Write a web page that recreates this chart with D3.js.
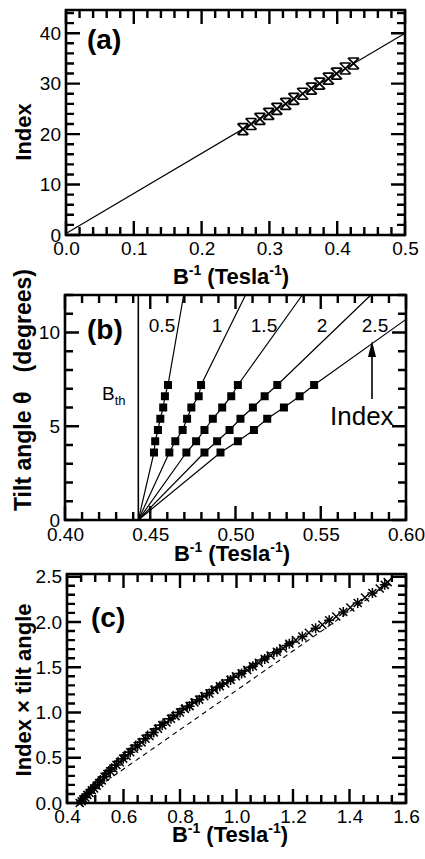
<!DOCTYPE html>
<html>
<head>
<meta charset="utf-8">
<script src="https://cdn.jsdelivr.net/npm/d3@7"></script>
<style>
  body { margin: 0; background: #fff; }
  svg { display: block; }
  text { font-family: "Liberation Sans", Arial, sans-serif; fill: #000; }
</style>
</head>
<body>
<div id="chart"></div>
<script>
// ---- panel (a): index vs 1/B ----
var aIndex = [21, 22, 23, 24, 25, 26, 27, 28, 29, 30, 31, 32, 33, 34];
var aInvB  = [0.261, 0.273, 0.286, 0.299, 0.311, 0.324, 0.336, 0.349, 0.362, 0.374, 0.387, 0.399, 0.412, 0.424];
var aFitX  = [0.0, 0.5];
var aFitY  = [0.3, 40.0];

// ---- panel (b): tilt angle vs 1/B for each index ----
var bIndexLabels = ["0.5", "1", "1.5", "2", "2.5"];
var bTilt = [3.6, 4.2, 4.8, 5.4, 6.0, 6.6, 7.2];
var bInvB = [
  [0.4522, 0.4529, 0.4545, 0.4559, 0.4576, 0.4586, 0.4604],
  [0.4612, 0.4647, 0.4690, 0.4716, 0.4741, 0.4784, 0.4798],
  [0.4712, 0.4769, 0.4818, 0.4867, 0.4922, 0.4975, 0.5014],
  [0.4818, 0.4892, 0.4965, 0.5029, 0.5102, 0.5171, 0.5245],
  [0.4912, 0.5014, 0.5108, 0.5186, 0.5284, 0.5376, 0.5461]
];
var bOrigin = [0.443, 0];
var bLineEnd = [[0.4696, 12], [0.5059, 12], [0.5392, 12], [0.5794, 12], [0.60, 10.7]];
var bTh = 0.443;

// ---- panel (c): index x tilt angle vs 1/B (two overlapping sets) ----
var cInvB = [0.445, 0.452, 0.458, 0.465, 0.472, 0.480, 0.488, 0.496, 0.505, 0.514,
             0.523, 0.533, 0.543, 0.553, 0.564, 0.575, 0.587, 0.599, 0.611, 0.624,
             0.637, 0.650, 0.664, 0.678, 0.692, 0.707, 0.722, 0.737, 0.752, 0.768,
             0.784, 0.800, 0.817, 0.834, 0.851, 0.868, 0.886, 0.904, 0.922, 0.941,
             0.960, 0.979, 0.998, 1.018, 1.038, 1.058, 1.079, 1.100, 1.121, 1.143,
             1.165, 1.187, 1.210, 1.233, 1.256, 1.280, 1.304, 1.328, 1.353, 1.378,
             1.403, 1.429, 1.455, 1.481, 1.507, 1.525, 1.535];
var cProd = [0.00, 0.02, 0.04, 0.06, 0.09, 0.11, 0.14, 0.16, 0.19, 0.22,
             0.25, 0.29, 0.32, 0.35, 0.38, 0.42, 0.45, 0.49, 0.52, 0.56,
             0.60, 0.63, 0.67, 0.71, 0.74, 0.78, 0.82, 0.86, 0.89, 0.93,
             0.96, 1.00, 1.04, 1.07, 1.11, 1.14, 1.18, 1.21, 1.25, 1.29,
             1.32, 1.36, 1.40, 1.43, 1.47, 1.51, 1.55, 1.59, 1.63, 1.67,
             1.71, 1.76, 1.80, 1.84, 1.88, 1.93, 1.97, 2.02, 2.06, 2.11,
             2.16, 2.21, 2.27, 2.32, 2.37, 2.41, 2.44];
var cInvB2 = [0.448, 0.455, 0.462, 0.469, 0.476, 0.484, 0.492, 0.500, 0.509, 0.518,
              0.528, 0.538, 0.548, 0.558, 0.569, 0.581, 0.593, 0.605, 0.617, 0.630,
              0.643, 0.657, 0.671, 0.685, 0.700, 0.714, 0.729, 0.744, 0.760, 0.776,
              0.792, 0.808, 0.825, 0.842, 0.859, 0.877, 0.895, 0.913, 0.931, 0.950,
              0.969, 0.988, 1.008, 1.028, 1.048, 1.068, 1.089, 1.110, 1.132, 1.154,
              1.176, 1.198];
var cProd2 = [0.03, 0.05, 0.07, 0.10, 0.12, 0.15, 0.17, 0.20, 0.23, 0.26,
              0.29, 0.33, 0.36, 0.39, 0.42, 0.46, 0.49, 0.53, 0.56, 0.60,
              0.64, 0.67, 0.71, 0.75, 0.78, 0.82, 0.86, 0.89, 0.93, 0.97,
              1.00, 1.04, 1.07, 1.11, 1.14, 1.18, 1.21, 1.25, 1.28, 1.32,
              1.36, 1.39, 1.43, 1.46, 1.50, 1.54, 1.58, 1.62, 1.66, 1.70,
              1.74, 1.78];
var cDashX = [0.46, 1.54];
var cDashY = [0.07, 2.42];

var svg = d3.select("#chart").append("svg")
    .attr("width", 425)
    .attr("height", 859);

function steps(a, b, s) {
  var out = [];
  var n = Math.round((b - a) / s);
  for (var i = 0; i <= n; i++) out.push(+(a + i * s).toFixed(4));
  return out;
}

// Build one framed panel with inward ticks on all four sides
function makePanel(p) {
  var w = p.right - p.left, h = p.bottom - p.top;
  var g = svg.append("g").attr("transform", "translate(" + p.left + "," + p.top + ")");
  var x = d3.scaleLinear().domain(p.xDomain).range([0, w]);
  var y = d3.scaleLinear().domain(p.yDomain).range([h, 0]);

  g.append("path")
    .attr("d", "M0,0H" + w + "V" + h + "H0Z")
    .attr("fill", "none").attr("stroke", "#000").attr("stroke-width", 2.6);

  // tick marks, one path, inward on all sides
  var d = "";
  function addTicks(xs, ys, len) {
    xs.forEach(function(v) {
      d += "M" + x(v).toFixed(2) + "," + h + "V" + (h - len);
      d += "M" + x(v).toFixed(2) + ",0V" + len;
    });
    ys.forEach(function(v) {
      d += "M0," + y(v).toFixed(2) + "H" + len;
      d += "M" + w + "," + y(v).toFixed(2) + "H" + (w - len);
    });
  }
  addTicks(p.xMinor, p.yMinor, 8);
  addTicks(p.xMajor, p.yMajor, 14);
  g.append("path").attr("d", d)
    .attr("fill", "none").attr("stroke", "#000").attr("stroke-width", 2.4);

  // tick labels from d3 axes
  var xa = g.append("g").attr("transform", "translate(0," + h + ")")
    .call(d3.axisBottom(x).tickValues(p.xMajor).tickSize(0).tickPadding(p.xPad).tickFormat(p.xFmt));
  var ya = g.append("g")
    .call(d3.axisLeft(y).tickValues(p.yMajor).tickSize(0).tickPadding(5).tickFormat(p.yFmt));
  [xa, ya].forEach(function(a) {
    a.select(".domain").remove();
    a.selectAll("text").style("font-size", "19px").attr("fill", "#000");
  });

  // x axis title with superscripts
  var t = svg.append("text")
    .attr("x", p.titleX).attr("y", p.xTitleY)
    .attr("text-anchor", "middle")
    .style("font-size", "22px").style("font-weight", "bold");
  t.append("tspan").text("B");
  t.append("tspan").attr("dy", -9).style("font-size", "14px").text("-1");
  t.append("tspan").attr("dy", 9).text(" (Tesla");
  t.append("tspan").attr("dy", -9).style("font-size", "14px").text("-1");
  t.append("tspan").attr("dy", 9).text(")");

  svg.append("text")
    .attr("transform", "translate(31," + p.yTitleY + ") rotate(-90)")
    .attr("text-anchor", "middle")
    .style("font-size", p.yTitleSize + "px").style("font-weight", "bold")
    .style("white-space", "pre")
    .text(p.yTitle);

  svg.append("text")
    .attr("x", p.tagX).attr("y", p.tagY)
    .style("font-size", "28px").style("font-weight", "bold")
    .text(p.tag);

  return {g: g, x: x, y: y};
}

// ---------- panel (a) ----------
var pa = makePanel({
  left: 66, right: 405, top: 10, bottom: 235,
  xDomain: [0, 0.5], yDomain: [0, 44.6],
  xMajor: steps(0, 0.5, 0.1), xMinor: steps(0, 0.5, 0.02),
  yMajor: steps(0, 40, 10), yMinor: steps(0, 44, 2),
  xFmt: d3.format(".1f"), yFmt: d3.format("d"), xPad: 7,
  titleX: 231, xTitleY: 284, yTitle: "Index", yTitleY: 132, yTitleSize: 22,
  tag: "(a)", tagX: 87, tagY: 49
});

pa.g.append("line")
  .attr("x1", pa.x(aFitX[0])).attr("y1", pa.y(aFitY[0]))
  .attr("x2", pa.x(aFitX[1])).attr("y2", pa.y(aFitY[1]))
  .attr("stroke", "#000").attr("stroke-width", 1.2);

pa.g.selectAll(".hg")
  .data(aIndex)
  .enter().append("path")
    .attr("class", "hg")
    .attr("transform", function(d, i) { return "translate(" + pa.x(aInvB[i]) + "," + pa.y(d) + ")"; })
    .attr("d", "M-5.5,-5.5L5.5,5.5M5.5,-5.5L-5.5,5.5M-5,-5.5L5,-5.5M-5,5.5L5,5.5")
    .attr("fill", "none").attr("stroke", "#000").attr("stroke-width", 1.7);

// ---------- panel (b) ----------
var pb = makePanel({
  left: 65, right: 406, top: 295, bottom: 520,
  xDomain: [0.40, 0.60], yDomain: [0, 12],
  xMajor: steps(0.40, 0.60, 0.05), xMinor: steps(0.40, 0.60, 0.01),
  yMajor: [0, 5, 10], yMinor: steps(0, 12, 1),
  xFmt: d3.format(".2f"), yFmt: d3.format("d"), xPad: 8,
  titleX: 232, xTitleY: 561, yTitle: "Tilt angle \u03b8   (degrees)", yTitleY: 390, yTitleSize: 23,
  tag: "(b)", tagX: 87, tagY: 339
});

pb.g.append("line")
  .attr("x1", pb.x(bTh)).attr("y1", pb.y(0))
  .attr("x2", pb.x(bTh)).attr("y2", pb.y(12))
  .attr("stroke", "#000").attr("stroke-width", 1.6);

var bLine = d3.line().x(function(d) { return pb.x(d[0]); }).y(function(d) { return pb.y(d[1]); });

bInvB.forEach(function(xs, s) {
  var pts = [bOrigin].concat(xs.map(function(v, i) { return [v, bTilt[i]]; })).concat([bLineEnd[s]]);
  pb.g.append("path").attr("d", bLine(pts))
    .attr("fill", "none").attr("stroke", "#000").attr("stroke-width", 1.2);
  pb.g.selectAll(".sq" + s)
    .data(xs)
    .enter().append("rect")
      .attr("x", function(d) { return pb.x(d) - 4; })
      .attr("y", function(d, i) { return pb.y(bTilt[i]) - 4; })
      .attr("width", 8).attr("height", 8)
      .attr("fill", "#000");
});

var bLabelX = [162, 217, 264, 322, 375];
bIndexLabels.forEach(function(l, i) {
  svg.append("text").attr("x", bLabelX[i]).attr("y", 332)
    .attr("text-anchor", "middle").style("font-size", "19px").text(l);
});

var bth = svg.append("text").attr("x", 102).attr("y", 400).style("font-size", "19px");
bth.append("tspan").text("B");
bth.append("tspan").attr("dy", 5).style("font-size", "13px").text("th");

svg.append("text").attr("x", 330).attr("y", 425).style("font-size", "26px").text("Index");
svg.append("line").attr("x1", 372).attr("y1", 399).attr("x2", 372).attr("y2", 354)
  .attr("stroke", "#000").attr("stroke-width", 1.6);
svg.append("path").attr("d", "M372,341L368,357L376,357Z").attr("fill", "#000");

// ---------- panel (c) ----------
var pc = makePanel({
  left: 67, right: 406, top: 574, bottom: 803,
  xDomain: [0.4, 1.6], yDomain: [0, 2.53],
  xMajor: steps(0.4, 1.6, 0.2), xMinor: steps(0.4, 1.6, 0.05),
  yMajor: steps(0, 2.5, 0.5), yMinor: steps(0, 2.5, 0.1),
  xFmt: d3.format(".1f"), yFmt: d3.format(".1f"), xPad: 7,
  titleX: 230, xTitleY: 842, yTitle: "Index \u00d7 tilt angle", yTitleY: 690, yTitleSize: 22,
  tag: "(c)", tagX: 91, tagY: 627
});

pc.g.append("line")
  .attr("x1", pc.x(cDashX[0])).attr("y1", pc.y(cDashY[0]))
  .attr("x2", pc.x(cDashX[1])).attr("y2", pc.y(cDashY[1]))
  .attr("stroke", "#000").attr("stroke-width", 1.1)
  .attr("stroke-dasharray", "5,4");

pc.g.selectAll(".cm2")
  .data(cProd2)
  .enter().append("path")
    .attr("class", "cm2")
    .attr("transform", function(d, i) { return "translate(" + pc.x(cInvB2[i]) + "," + pc.y(d) + ")"; })
    .attr("d", "M0,-4.5L0,4.5M-4.5,0L4.5,0")
    .attr("fill", "none").attr("stroke", "#000").attr("stroke-width", 1.5);

pc.g.selectAll(".cm")
  .data(cProd)
  .enter().append("path")
    .attr("class", "cm")
    .attr("transform", function(d, i) { return "translate(" + pc.x(cInvB[i]) + "," + pc.y(d) + ")"; })
    .attr("d", function(d, i) {
      return i % 2 ? "M-4,-4L4,4M4,-4L-4,4M0,-5L0,5M-5,0L5,0" : "M-4,-4L4,4M4,-4L-4,4";
    })
    .attr("fill", "none").attr("stroke", "#000").attr("stroke-width", 1.5);
</script>
</body>
</html>
